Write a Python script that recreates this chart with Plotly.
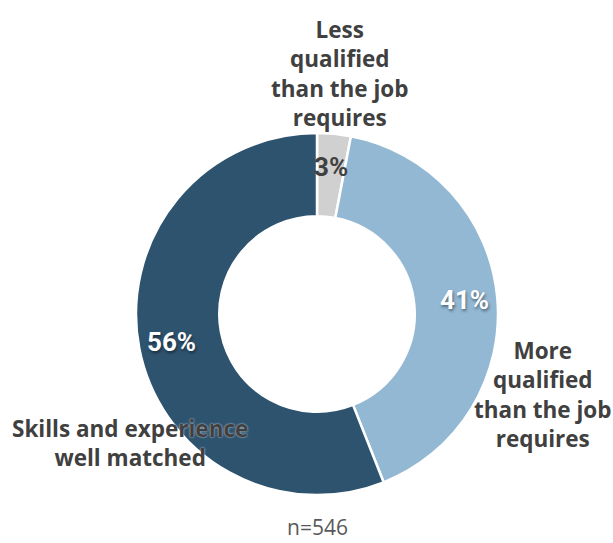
import math
import plotly.graph_objects as go

# Survey data
categories = [
    "Less qualified than the job requires",
    "More qualified than the job requires",
    "Skills and experience well matched",
]
shares = [3, 41, 56]
colors = ["#D0D0D0", "#93B8D3", "#2E536F"]
pct_colors = ["#404040", "#FFFFFF", "#FFFFFF"]
category_lines = [
    "Less<br>qualified<br>than the job<br>requires",
    "More<br>qualified<br>than the job<br>requires",
    "Skills and experience<br>well matched",
]
sample_note = "n=546"

W, H = 613, 543
CX, CY, R = 317, 314, 181   # donut centre and outer radius in pixels
HOLE = 0.54
LABEL_R = 148               # radius at which percentage labels sit

dom_x = [(CX - R) / W, (CX + R) / W]
dom_y = [(H - CY - R) / H, (H - CY + R) / H]

fig = go.Figure(
    go.Pie(
        labels=categories,
        values=shares,
        sort=False,
        direction="clockwise",
        rotation=0,
        hole=HOLE,
        marker=dict(colors=colors, line=dict(color="#FFFFFF", width=2.5)),
        textinfo="none",
        hoverinfo="label+percent",
        showlegend=False,
        domain=dict(x=dom_x, y=dom_y),
    )
)

annotations = []

# percentage labels placed at each slice's mid angle
total = sum(shares)
cum = 0
for v, col in zip(shares, pct_colors):
    mid = (cum + v / 2) / total * 2 * math.pi
    cum += v
    px = CX + LABEL_R * math.sin(mid)
    py = CY - LABEL_R * math.cos(mid)
    annotations.append(dict(
        x=px / W, y=1 - py / H, xref="paper", yref="paper",
        text=f"<b>{v}%</b>", showarrow=False,
        font=dict(family="Roboto, sans-serif",
                  size=26, color=col,
                  shadow="1px 2px 3px rgba(0,0,0,0.45)" if col == "#FFFFFF" else "none"),
        xanchor="center", yanchor="middle",
    ))

# category labels
cat_pos = [(340, 73), (543, 394), (130, 443)]
for txt, (x, y) in zip(category_lines, cat_pos):
    annotations.append(dict(
        x=x / W, y=1 - y / H, xref="paper", yref="paper",
        text=f"<b>{txt}</b>", showarrow=False, align="center",
        font=dict(family="Open Sans, sans-serif", size=22.5, color="#404040",
                  shadow="0 0 2px rgba(255,255,255,0.9)"),
        xanchor="center", yanchor="middle",
    ))

# sample size note under the donut
annotations.append(dict(
    x=317 / W, y=1 - 527 / H, xref="paper", yref="paper",
    text=sample_note, showarrow=False, borderpad=0,
    font=dict(family="Open Sans, sans-serif", size=21, color="#595959"),
    xanchor="center", yanchor="middle",
))

fig.update_layout(
    width=W, height=H,
    margin=dict(l=0, r=0, t=0, b=0),
    paper_bgcolor="#FFFFFF",
    plot_bgcolor="#FFFFFF",
    annotations=annotations,
)

fig.write_html("out.html")
